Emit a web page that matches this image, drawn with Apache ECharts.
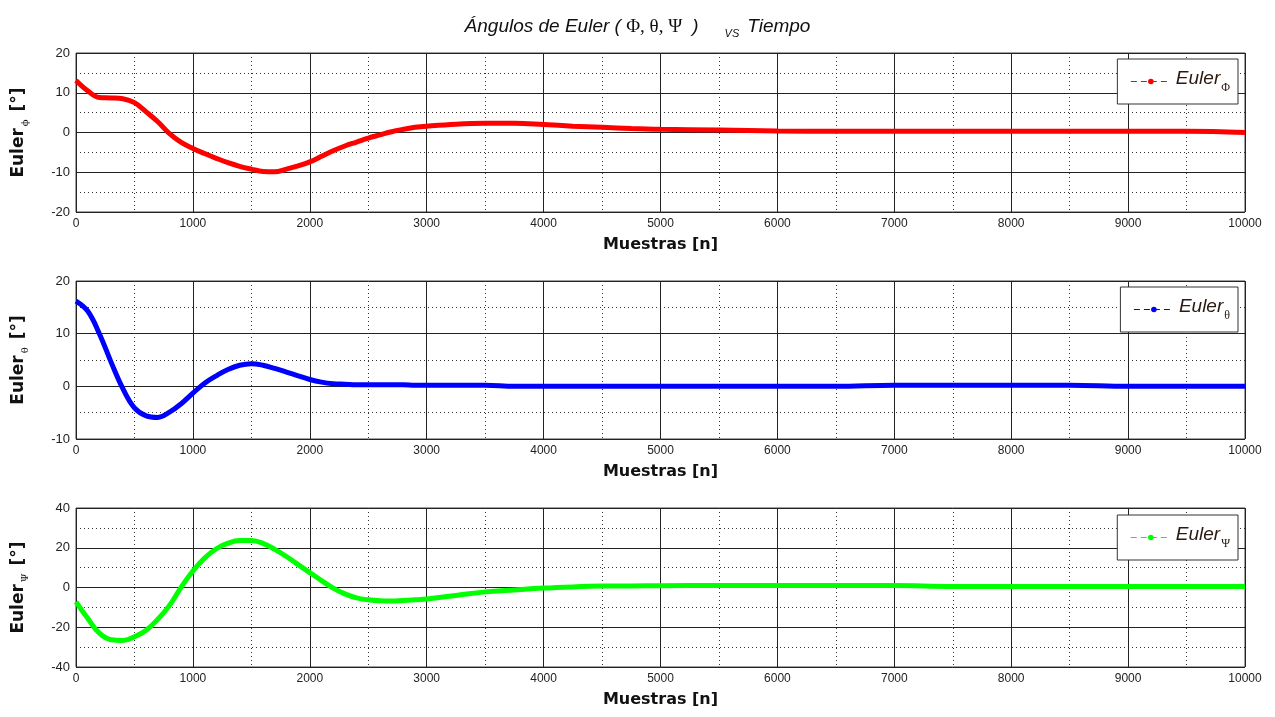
<!DOCTYPE html>
<html>
<head>
<meta charset="utf-8">
<script src="https://cdn.jsdelivr.net/npm/echarts@6/dist/echarts.min.js"></script>
<style>
html,body{margin:0;padding:0;background:#fff;}
#chart{width:1275px;height:717px;}
</style>
</head>
<body>
<div id="chart"></div>
<script>
// Sample index (n)
const samples = [0,100,200,300,400,500,600,700,800,900,1000,1100,1200,1300,1400,1500,1600,1700,1800,1900,2000,
  2100,2200,2300,2400,2500,2600,2700,2800,2900,3000,3250,3500,3750,4000,4250,4500,4750,5000,
  5500,6000,6500,7000,7500,8000,8500,9000,9500,10000];
// Euler phi [deg]
const eulerPhi = [13.1,10.5,8.8,8.7,8.5,7.5,5.2,2.7,-0.3,-2.5,-4.0,-5.3,-6.5,-7.6,-8.5,-9.2,-9.8,-9.9,-9.2,-8.4,-7.4,
  -6.0,-4.6,-3.4,-2.4,-1.4,-0.6,0.2,0.8,1.3,1.6,2.1,2.3,2.3,2.0,1.6,1.3,1.0,0.8,
  0.6,0.4,0.3,0.3,0.3,0.3,0.3,0.3,0.3,0.0];
// Euler theta [deg]
const eulerTheta = [16.2,14.3,10.0,4.6,-0.4,-4.1,-5.6,-5.9,-4.9,-3.3,-1.3,0.6,2.0,3.2,4.0,4.3,4.0,3.4,2.7,2.0,1.3,
  0.8,0.5,0.4,0.3,0.3,0.3,0.3,0.3,0.2,0.2,0.2,0.2,0.0,0.0,0.0,0.0,0.0,0.0,
  0.0,0.0,0.0,0.2,0.2,0.2,0.2,0.0,0.0,0.0];
// Euler psi [deg]
const eulerPsi = [-7.2,-15.5,-23.0,-26.3,-26.7,-24.8,-21.5,-16.0,-9.0,0.2,8.3,14.8,19.5,22.3,23.6,23.6,22.2,19.2,15.6,11.5,7.5,
  3.5,-0.3,-3.2,-5.2,-6.2,-6.7,-6.8,-6.5,-6.2,-5.8,-4.0,-2.2,-1.2,-0.3,0.3,0.7,0.8,0.9,
  1.0,1.0,1.0,1.0,0.5,0.5,0.5,0.5,0.5,0.5];

const xMin = 0, xMax = 10000, xInterval = 1000;
const yRanges = [[-20,20,10],[-10,20,10],[-40,40,20]];
const subs = ['\u03D5','\u03B8','\u03A8'];
const legendSubs = ['\u03A6','\u03B8','\u03A8'];
const colors = ['#ff0000','#0000ff','#00ff00'];
const names = ['EulerPhi','EulerTheta','EulerPsi'];
const seriesVals = [eulerPhi, eulerTheta, eulerPsi];

const grids = [
  {left:74, right:30, top:53, height:159},
  {left:74, right:30, top:281, height:158},
  {left:74, right:30, top:508, height:159}
];
const legendTops = [59, 287, 515];

const labelFont = 'Liberation Sans';
const option = {
  backgroundColor:'#fff',
  animation:false,
  title:{
    left:'center', top:9,
    text:'{t|\u00C1ngulos de Euler ( }{g|\u03A6, \u03B8, \u03A8 }{t| )}{v|VS}{t|Tiempo}',
    textStyle:{
      fontWeight:'normal',
      rich:{
        t:{fontFamily:'Liberation Sans',fontStyle:'italic',fontWeight:'normal',fontSize:19,color:'#111',lineHeight:26},
        g:{fontFamily:'Liberation Serif',fontWeight:'normal',fontSize:19,color:'#111',lineHeight:26},
        v:{fontFamily:'Liberation Sans',fontStyle:'italic',fontWeight:'normal',fontSize:11,color:'#111',padding:[14,8,0,26],lineHeight:26}
      }
    }
  },
  grid: grids.map(g=>Object.assign({show:true,borderColor:'#444',borderWidth:1,containLabel:false},g)),
  legend: names.map((nm,i)=>({
    data:[nm],
    right:37, top:legendTops[i],
    orient:'horizontal',
    backgroundColor:'#fff',
    borderColor:'#333', borderWidth:1, borderRadius:0,
    padding:[10,8,10,13],
    itemWidth:40, itemHeight:7, itemGap:4,
    lineStyle:{type:[6,4],width:1},
    formatter:()=>'{a|Euler}{b|'+legendSubs[i]+'}',
    textStyle:{
      rich:{
        a:{fontFamily:'Liberation Sans',fontStyle:'italic',fontSize:19,color:'#2a1a12',lineHeight:30,padding:[0,0,6,0]},
        b:{fontFamily:'Liberation Serif',fontSize:12,color:'#2a1a12',lineHeight:30,padding:[12,0,0,1]}
      }
    }
  })),
  xAxis: grids.map((g,i)=>({
    type:'value', gridIndex:i, min:xMin, max:xMax, interval:xInterval,
    name:'Muestras [n]', nameLocation:'middle', nameGap:25,
    nameTextStyle:{fontFamily:'DejaVu Sans',fontWeight:'bold',fontSize:16,color:'#111'},
    axisLine:{show:false},
    axisTick:{show:false},
    axisLabel:{fontFamily:labelFont,fontSize:12,color:'#222',margin:6,formatter:v=>String(v)},
    splitLine:{show:true,lineStyle:{color:'#222',width:1}},
    minorTick:{show:false,splitNumber:2},
    minorSplitLine:{show:true,lineStyle:{color:'#333',width:1,type:[1,3]}}
  })),
  yAxis: yRanges.map((r,i)=>({
    type:'value', gridIndex:i, min:r[0], max:r[1], interval:r[2],
    name:'{e|Euler}{s|'+subs[i]+'}{e| [\u00B0]}', nameLocation:'middle', nameGap:44, nameRotate:90,
    nameTextStyle:{rich:{
      e:{fontFamily:'DejaVu Sans',fontWeight:'bold',fontSize:17,color:'#111',lineHeight:26},
      s:{fontFamily:'DejaVu Serif',fontSize:10,color:'#111',lineHeight:26,padding:[12,2,0,2]}
    }},
    axisLine:{show:false},
    axisTick:{show:false},
    axisLabel:{fontFamily:labelFont,fontSize:13,color:'#222',margin:6},
    splitLine:{show:true,lineStyle:{color:'#222',width:1}},
    minorTick:{show:false,splitNumber:2},
    minorSplitLine:{show:true,lineStyle:{color:'#333',width:1,type:[1,3]}}
  })),
  series: names.map((nm,i)=>({
    name:nm, type:'line', xAxisIndex:i, yAxisIndex:i,
    data: samples.map((n,k)=>[n, seriesVals[i][k]]),
    smooth:0.4,
    symbol:'circle', symbolSize:5, showSymbol:false,
    itemStyle:{color:colors[i]},
    lineStyle:{color:colors[i],width:5},
    z:5
  }))
};
const chart = echarts.init(document.getElementById('chart'),null,{renderer:'canvas'});
chart.setOption(option);
</script>
</body>
</html>
